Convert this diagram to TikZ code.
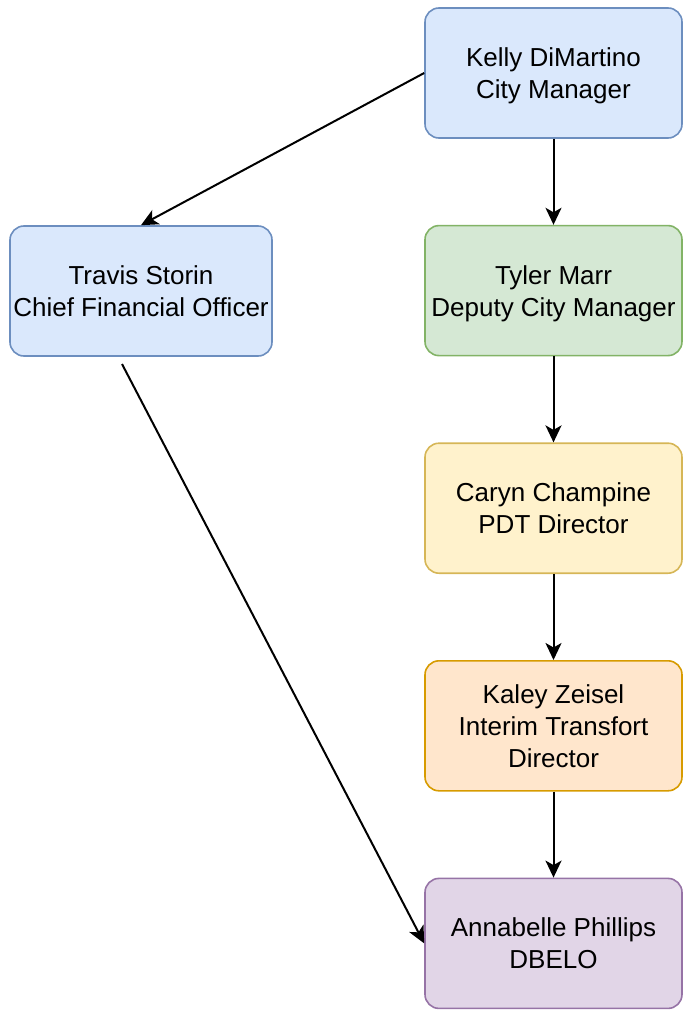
\documentclass[tikz,border=0pt]{standalone}
\usepackage{fontspec}
\setmainfont{Liberation Sans}
\usetikzlibrary{positioning,arrows.meta}
\definecolor{bluefill}{HTML}{DAE8FC}
\definecolor{blueline}{HTML}{6C8EBF}
\definecolor{greenfill}{HTML}{D5E8D4}
\definecolor{greenline}{HTML}{82B366}
\definecolor{yellowfill}{HTML}{FFF2CC}
\definecolor{yellowline}{HTML}{D6B656}
\definecolor{orangefill}{HTML}{FFE6CC}
\definecolor{orangeline}{HTML}{D79B00}
\definecolor{purplefill}{HTML}{E1D5E7}
\definecolor{purpleline}{HTML}{9673A6}
\begin{document}
\begin{tikzpicture}[
            x=1pt, y=-1pt,
            every node/.style={draw, rounded corners=14pt, line width=1.6pt, align=center,
                minimum width=257pt, minimum height=130pt, inner sep=0pt, text depth=0pt,
                font=\fontsize{26}{32}\selectfont},
            bluebox/.style={fill=bluefill, draw=blueline},
            greenbox/.style={fill=greenfill, draw=greenline},
            yellowbox/.style={fill=yellowfill, draw=yellowline},
            orangebox/.style={fill=orangefill, draw=orangeline},
            purplebox/.style={fill=purplefill, draw=purpleline},
            arrowline/.style={draw, line width=2pt, -{Stealth[length=17pt, width=16pt, inset=4.5pt]}},
            node distance=86pt
            ]
        \useasboundingbox (0,0) rectangle (683,1011);
        \node[bluebox] (kelly) at (553.5,73) {Kelly DiMartino\\City Manager};
        \node[bluebox, minimum width=262pt] (travis) at (141,291) {Travis Storin\\Chief Financial Officer};
        \node[greenbox, below=of kelly] (tyler) {Tyler Marr\\Deputy City Manager};
        \node[yellowbox, below=of tyler] (caryn) {Caryn Champine\\PDT Director};
        \node[orangebox, below=of caryn] (kaley) {Kaley Zeisel\\Interim Transfort\\Director};
        \node[purplebox, below=of kaley] (annabelle) {Annabelle Phillips\\DBELO};
        \coordinate (travisout) at (122,364);
        \draw[arrowline] (kelly.west) -- (travis.north);
        \draw[arrowline] (kelly) -- (tyler);
        \draw[arrowline] (tyler) -- (caryn);
        \draw[arrowline] (caryn) -- (kaley);
        \draw[arrowline] (kaley) -- (annabelle);
        \draw[arrowline] (travisout) -- (annabelle.west);
\end{tikzpicture}
\end{document}
